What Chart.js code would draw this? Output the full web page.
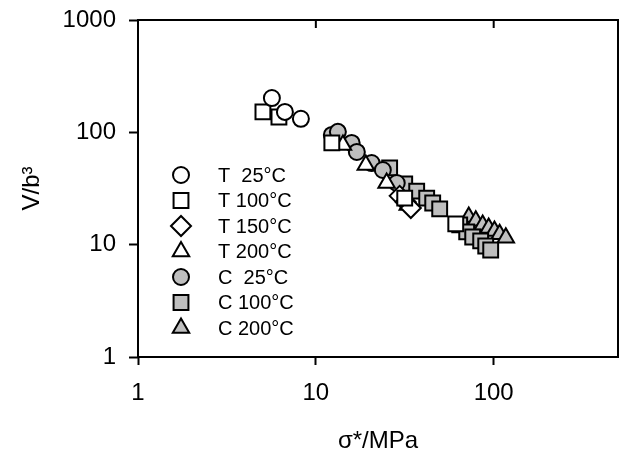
<!DOCTYPE html>
<html>
<head>
<meta charset="utf-8">
<script src="https://cdn.jsdelivr.net/npm/chart.js@4.4.0/dist/chart.umd.min.js"></script>
<style>
  html, body { margin: 0; padding: 0; background: #fff; overflow: hidden; }
  #wrap { width: 623px; height: 451px; }
  canvas { display: block; }
</style>
</head>
<body>
<div id="wrap"><canvas id="chart" width="623" height="451"></canvas></div>
<script>
// valores (sigma* em MPa, V/b^3)
const t25X = [5.66, 6.70, 8.24];
const t25Y = [202, 152, 132];
const t100X = [5.04, 6.20, 12.3, 31.6, 61.2];
const t100Y = [152, 137, 80.5, 26.0, 15.3];
const t150X = [29.6, 32.0, 34.2];
const t150Y = [27.2, 24.0, 21.2];
const t200X = [14.2, 19.1, 25.0, 32.9];
const t200Y = [77.2, 51.3, 35.4, 22.6];
const c25X = [12.3, 13.3, 15.9, 17.0, 20.6, 23.8, 28.5];
const c25Y = [94.8, 101, 80.5, 66.9, 53.3, 46.2, 35.4];
const c100X = [26.0, 31.6, 36.9, 42.0, 45.4, 49.7, 64.4, 70.5, 76.2, 84.5, 90.2, 96.2];
const c100Y = [48.2, 34.7, 30.0, 26.0, 23.5, 20.8, 15.0, 13.0, 11.7, 10.8, 9.73, 8.97];
const c200X = [72.4, 79.3, 86.7, 93.7, 101, 108, 117];
const c200Y = [17.6, 16.3, 15.0, 14.1, 13.2, 12.4, 11.5];

const xTicks = [1, 10, 100];
const yTicks = [1, 10, 100, 1000];

const fonte = 'Arial, "Liberation Sans", sans-serif';
const cinza = '#bfbfbf';

function pontos(xs, ys) {
  return xs.map((x, i) => ({ x: x, y: ys[i] }));
}

// Séries
const series = [
  { label: 'T  25°C', xs: t25X, ys: t25Y, estilo: 'circle', raio: 8, cor: '#fff' },
  { label: 'T 100°C', xs: t100X, ys: t100Y, estilo: 'rect', raio: 10.5, cor: '#fff' },
  { label: 'T 150°C', xs: t150X, ys: t150Y, estilo: 'rectRot', raio: 10, cor: '#fff' },
  { label: 'T 200°C', xs: t200X, ys: t200Y, estilo: 'triangle', raio: 9.5, cor: '#fff' },
  { label: 'C  25°C', xs: c25X, ys: c25Y, estilo: 'circle', raio: 8, cor: cinza },
  { label: 'C 100°C', xs: c100X, ys: c100Y, estilo: 'rect', raio: 10.5, cor: cinza },
  { label: 'C 200°C', xs: c200X, ys: c200Y, estilo: 'triangle', raio: 9.5, cor: cinza }
];

// sem margens automáticas dos eixos: a área do gráfico fica onde está na figura
function semPadding(scale) {
  scale.paddingTop = 0;
  scale.paddingBottom = 0;
  scale.paddingLeft = 0;
  scale.paddingRight = 0;
}

// Moldura, marcas internas, títulos e legenda
const extras = {
  id: 'extras',
  afterDraw(chart) {
    const ctx = chart.ctx;
    const a = chart.chartArea;
    const sx = chart.scales.x;
    ctx.save();
    ctx.strokeStyle = '#000';
    ctx.lineWidth = 2;
    ctx.strokeRect(a.left, a.top, a.right - a.left, a.bottom - a.top);
    // marcas no eixo superior
    xTicks.forEach(v => {
      const px = sx.getPixelForValue(v);
      ctx.beginPath();
      ctx.moveTo(px, a.top);
      ctx.lineTo(px, a.top + 8);
      ctx.stroke();
    });

    // títulos
    ctx.fillStyle = '#000';
    ctx.font = '24px ' + fonte;
    ctx.textAlign = 'center';
    ctx.textBaseline = 'middle';
    ctx.fillText('σ*/MPa', (a.left + a.right) / 2, 441);
    ctx.save();
    ctx.translate(32, (a.top + a.bottom) / 2);
    ctx.rotate(-Math.PI / 2);
    ctx.fillText('V/b³', 0, 0);
    ctx.restore();

    // legenda
    ctx.font = '20px ' + fonte;
    ctx.textAlign = 'left';
    series.forEach((s, i) => {
      const y = 175 + i * 25.5;
      ctx.fillStyle = s.cor;
      ctx.strokeStyle = '#000';
      ctx.lineWidth = 2;
      Chart.helpers.drawPoint(ctx, { pointStyle: s.estilo, radius: s.raio, borderWidth: 2 }, 181, y);
      ctx.fillStyle = '#000';
      ctx.fillText(s.label, 218, y + 1);
    });
    ctx.restore();
  }
};

new Chart(document.getElementById('chart'), {
  type: 'scatter',
  data: {
    datasets: series.map(s => ({
      label: s.label,
      data: pontos(s.xs, s.ys),
      pointStyle: s.estilo,
      pointRadius: s.raio,
      pointHoverRadius: s.raio,
      backgroundColor: s.cor,
      borderColor: '#000',
      borderWidth: 2
    }))
  },
  options: {
    responsive: false,
    animation: false,
    layout: { autoPadding: false, padding: { left: 0, right: 5, top: 20, bottom: 0 } },
    plugins: {
      legend: { display: false },
      tooltip: { enabled: false }
    },
    scales: {
      x: {
        type: 'logarithmic',
        min: 1,
        max: 500,
        afterBuildTicks: scale => { scale.ticks = xTicks.map(v => ({ value: v })); },
        afterFit: scale => { scale.height = 94; semPadding(scale); },
        border: { display: false },
        grid: { drawOnChartArea: false, drawTicks: true, tickLength: 8, tickWidth: 2, tickColor: '#000' },
        ticks: {
          color: '#000',
          padding: 14,
          maxRotation: 0,
          font: { family: fonte, size: 24 },
          callback: v => String(v)
        }
      },
      y: {
        type: 'logarithmic',
        min: 1,
        max: 1000,
        afterBuildTicks: scale => { scale.ticks = yTicks.map(v => ({ value: v })); },
        afterFit: scale => { scale.width = 138; semPadding(scale); },
        border: { display: false },
        grid: { drawOnChartArea: false, drawTicks: true, tickLength: 9, tickWidth: 2, tickColor: '#000' },
        ticks: {
          color: '#000',
          padding: 13,
          font: { family: fonte, size: 24 },
          callback: v => String(v)
        }
      }
    }
  },
  plugins: [extras]
});
</script>
</body>
</html>
